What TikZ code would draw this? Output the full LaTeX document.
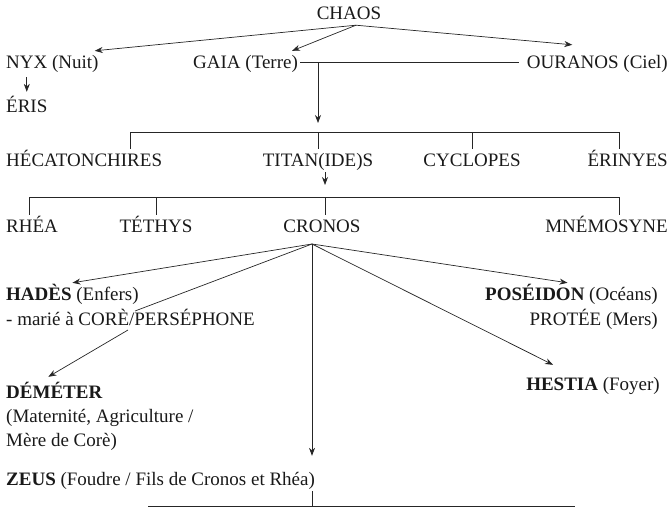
\documentclass[tikz,border=0pt]{standalone}
\usepackage{fontspec}
\setmainfont{Liberation Serif}
\usepackage{tikz}
\usetikzlibrary{arrows.meta}
\tikzstyle{deity} = [font=\fontsize{19}{23}\selectfont, text=black!90, inner sep=2pt, text height=15pt, text depth=4pt]
\tikzstyle{link} = [line width=0.7pt, draw=black!85]
\tikzstyle{arrow} = [link, ->, >={Stealth[length=8pt,width=6pt]}]

\begin{document}
\begin{tikzpicture}[x=1pt, y=-1pt]
\useasboundingbox (0,0) rectangle (669,514);
\node (chaos) [deity, anchor=base] at (349,19) {CHAOS};
\node (nyx) [deity, anchor=base west] at (4,68) {NYX (Nuit)};
\node (gaia) [deity, anchor=base west] at (191,68) {GAIA (Terre)};
\node (ouranos) [deity, anchor=base east] at (670,68) {OURANOS (Ciel)};
\node (eris) [deity, anchor=base west] at (4,112) {ÉRIS};
\node (heca) [deity, anchor=base west] at (4,166) {HÉCATONCHIRES};
\node (titans) [deity, anchor=base] at (318,166) {TITAN(IDE)S};
\node (cyclopes) [deity, anchor=base] at (472,166) {CYCLOPES};
\node (erinyes) [deity, anchor=base east] at (670,166) {ÉRINYES};
\node (rhea) [deity, anchor=base west] at (4,232) {RHÉA};
\node (tethys) [deity, anchor=base] at (156,232) {TÉTHYS};
\node (cronos) [deity, anchor=base] at (322,232) {CRONOS};
\node (mnemosyne) [deity, anchor=base east] at (670,232) {MNÉMOSYNE};
\node (hades) [deity, anchor=base west] at (4,300) {\textbf{HADÈS} (Enfers)};
\node (marie) [deity, anchor=base west] at (4,325) {- marié à CORÈ/PERSÉPHONE};
\node (demeter) [deity, anchor=base west] at (4,398) {\textbf{DÉMÉTER}};
\node (maternite) [deity, anchor=base west] at (4,422) {(Maternité, Agriculture /};
\node (mere) [deity, anchor=base west] at (4,446) {Mère de Corè)};
\node (zeus) [deity, anchor=base west] at (4,485) {\textbf{ZEUS} (Foudre / Fils de Cronos et Rhéa)};
\node (poseidon) [deity, anchor=base east] at (660,300) {\textbf{POSÉIDON} (Océans)};
\node (protee) [deity, anchor=base east] at (660,325) {PROTÉE (Mers)};
\node (hestia) [deity, anchor=base east] at (662,390) {\textbf{HESTIA} (Foyer)};

\coordinate (union) at (318,62.5);
\coordinate (bar1w) at (130,132);
\coordinate (bar1) at (318,132);
\coordinate (bar1e) at (619,132);
\coordinate (bar2w) at (29,197);
\coordinate (bar2) at (325,197);
\coordinate (bar2e) at (619,197);
\coordinate (fork) at (312,244);
\coordinate (slashtop) at ([xshift=131pt,yshift=14pt]marie.base west);
\coordinate (slashbot) at ([xshift=124pt,yshift=-5pt]marie.base west);
\coordinate (bar3w) at (148,506);
\coordinate (bar3) at (312,506);
\coordinate (bar3e) at (575,506);

\draw [arrow] ([xshift=7pt]chaos.south) -- ([xshift=-6pt]nyx.north east);
\draw [arrow] ([xshift=7pt]chaos.south) -- ([xshift=-8pt]gaia.north east);
\draw [arrow] ([xshift=7pt]chaos.south) -- ([xshift=-25pt,yshift=6pt]ouranos.north);
\draw [arrow, shorten <=3pt, shorten >=3pt] (nyx.south -| eris.north) -- (eris.north);
\draw [link, shorten >=6pt] (gaia.east) -- (ouranos.west);
\draw [arrow] (union) -- ([yshift=9pt]bar1);
\draw [link] (bar1w) -- (bar1e);
\draw [link] (bar1w) -- (bar1w |- heca.north);
\draw [link] (bar1) -- (titans.north);
\draw [link] (cyclopes.north |- bar1) -- (cyclopes.north);
\draw [link] (bar1e) -- (bar1e |- erinyes.north);
\draw [arrow] (titans.south -| bar2) -- ([yshift=12pt]bar2);
\draw [link] (bar2w) -- (bar2e);
\draw [link] (bar2w) -- (bar2w |- rhea.north);
\draw [link] (tethys.north |- bar2) -- (tethys.north);
\draw [link] (bar2) -- (bar2 |- cronos.north);
\draw [link] (bar2e) -- (bar2e |- mnemosyne.north);
\draw [arrow] (fork) -- (hades.north);
\draw [link] (fork) -- (slashtop);
\draw [arrow] (slashbot) -- ([xshift=-6pt,yshift=4pt]demeter.north);
\draw [arrow] (fork) -- ([yshift=12pt]fork |- zeus.north);
\draw [arrow] (fork) -- ([xshift=-4pt]poseidon.north);
\draw [arrow] (fork) -- ([xshift=-40pt,yshift=8pt]hestia.north);
\draw [link] (bar3 |- zeus.south) -- (bar3);
\draw [link] (bar3w) -- (bar3e);
\end{tikzpicture}
\end{document}
